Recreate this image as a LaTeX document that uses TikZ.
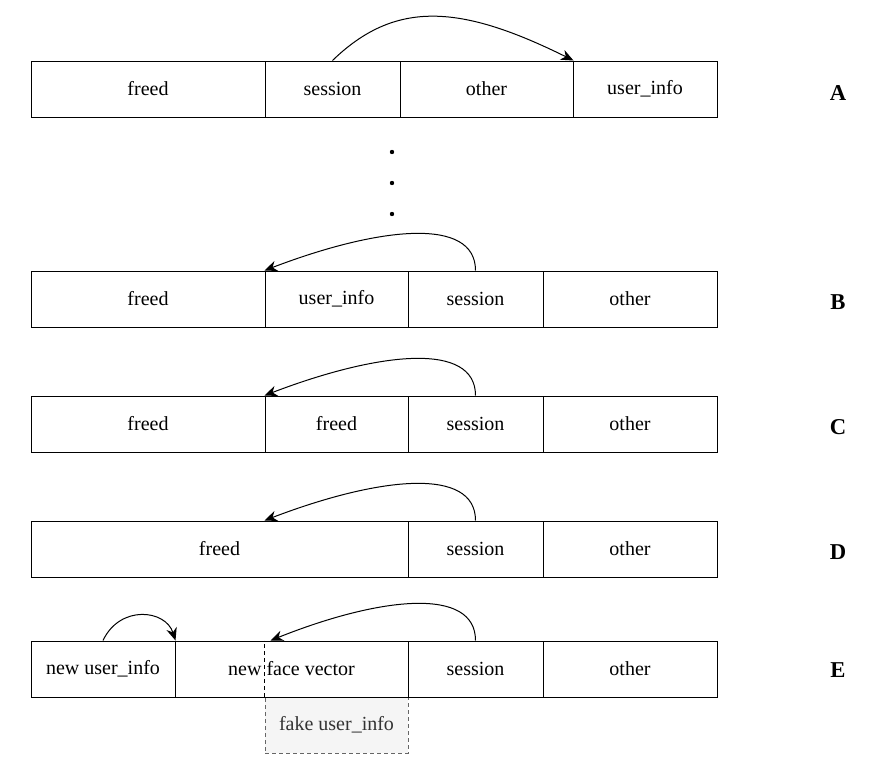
\documentclass[tikz,border=0pt]{standalone}
\usepackage{fontspec}
\setmainfont{Liberation Serif}
\usetikzlibrary{arrows.meta,calc}
\definecolor{fakefill}{HTML}{F5F5F5}
\definecolor{fakeline}{HTML}{666666}
\definecolor{faketext}{HTML}{333333}
\begin{document}
\begin{tikzpicture}[x=0.75pt,y=-0.75pt, line width=0.75pt,
  font=\fontsize{15}{18}\selectfont,
  cell/.style={draw, minimum height=42pt, inner sep=0pt, anchor=center},
  lbl/.style={font=\fontsize{17}{20}\selectfont\bfseries},
  arr/.style={-{Stealth[length=9.5pt,width=8pt]}, line width=0.75pt},
  fakebox/.style={cell, draw=fakeline, fill=fakefill, text=faketext, dash pattern=on 3pt off 2.25pt}]
\useasboundingbox (0,0) rectangle (879,775);
% Row A
\node[cell, minimum width=175.5pt] (a1) at (148,89) {freed};
\node[cell, minimum width=101.25pt] (a2) at (332.5,89) {session};
\node[cell, minimum width=129.75pt] (a3) at (486.5,89) {other};
\node[cell, minimum width=108pt] (a4) at (645,89) {user\_info};
\node[lbl] (la) at (838,93) {A};
% dots
\fill (392,152) circle (2.2);
\fill (392,183) circle (2.2);
\fill (392,214) circle (2.2);
% Row B
\node[cell, minimum width=175.5pt] (b1) at (148,299) {freed};
\node[cell, minimum width=107.25pt] (b2) at (336.5,299) {user\_info};
\node[cell, minimum width=101.25pt] (b3) at (475.5,299) {session};
\node[cell, minimum width=130.5pt] (b4) at (630,299) {other};
\node[lbl] (lb) at (838,302) {B};
% Row C
\node[cell, minimum width=175.5pt] (c1) at (148,424) {freed};
\node[cell, minimum width=107.25pt] (c2) at (336.5,424) {freed};
\node[cell, minimum width=101.25pt] (c3) at (475.5,424) {session};
\node[cell, minimum width=130.5pt] (c4) at (630,424) {other};
\node[lbl] (lc) at (838,427) {C};
% Row D
\node[cell, minimum width=282.75pt] (d1) at (219.5,549) {freed};
\node[cell, minimum width=101.25pt] (d2) at (475.5,549) {session};
\node[cell, minimum width=130.5pt] (d3) at (630,549) {other};
\node[lbl] (ld) at (838,552) {D};
% Row E
\node[fakebox, minimum width=107.25pt] (fake) at (336.5,725) {fake user\_info};
\node[cell, minimum width=108pt] (e1) at (103,669) {new user\_info};
\node[cell, minimum width=174.75pt] (e2) at (291.5,669) {new face vector};
\node[cell, minimum width=101.25pt] (e3) at (475.5,669) {session};
\node[cell, minimum width=130.5pt] (e4) at (630,669) {other};
\node[lbl] (le) at (838,670) {E};
\coordinate (split) at (fake.north west |- e2.north);
\draw[dash pattern=on 3pt off 2.25pt] (fake.north west) -- (split);
% arrows
\draw[arr] (a2.north) .. controls +(63,-61) and +(-113,-56) .. (a3.north east);
\draw[arr] (b3.north) .. controls +(0,-54) and +(115,-44) .. (b2.north west);
\draw[arr] (c3.north) .. controls +(0,-54) and +(115,-44) .. (c2.north west);
\draw[arr] (d2.north) .. controls +(0,-54) and +(115,-44) .. ($(d1.north west)+(234,0)$);
\draw[arr] (e3.north) .. controls +(0,-54) and +(110,-44) .. ($(split)+(6,0)$);
\draw[arr] (e1.north) .. controls +(17,-36) and +(-10,-31) .. (e1.north east);
\end{tikzpicture}
\end{document}
